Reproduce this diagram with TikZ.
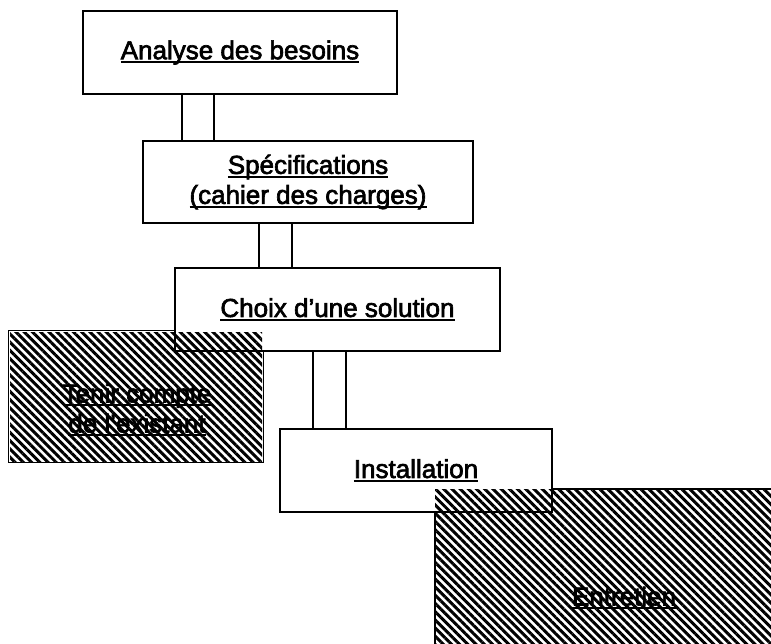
\documentclass[tikz,border=0pt]{standalone}
\usepackage{fontspec}
\setmainfont[FakeBold=2.5]{Liberation Sans}
\usetikzlibrary{patterns.meta}
\newcommand\ulbox[1]{\setbox0\hbox{#1}\rlap{\rule[-0.15em]{\wd0}{0.08em}}\box0}
\tikzset{
  stage/.style={draw, line width=1.8pt, fill=white, align=center, inner sep=0pt,
    font=\fontsize{26}{30}\selectfont},
  openstage/.style={stage, fill=none},
  hatchbox/.style={inner sep=0pt, pattern={Lines[angle=-45,distance=5.8pt,line width=3pt]}},
  edge/.style={line width=1.8pt},
  lbl/.style={align=center, inner sep=0pt, font=\fontsize{26}{30}\selectfont}
}
\begin{document}
\begin{tikzpicture}[x=1pt,y=-1pt]
\useasboundingbox (0,0) rectangle (771,644);
\clip (0,0) rectangle (771,644);
% connector x positions
\coordinate (xa) at (182,0);
\coordinate (xb) at (214,0);
\coordinate (xc) at (259,0);
\coordinate (xd) at (292,0);
\coordinate (xe) at (313,0);
\coordinate (xf) at (346,0);
% plain stages
\node[stage, minimum width=314pt, minimum height=83pt] (b1) at (240,52.5) {\ulbox{Analyse des besoins}};
\node[stage, minimum width=330pt, minimum height=82pt] (b2) at (308,182) {\ulbox{Spécifications}\\\ulbox{(cahier des charges)}};
% hatched areas
\node[hatchbox, minimum width=252pt, minimum height=129pt] (tenir) at (136,396.5) {};
\node[hatchbox, minimum width=345pt, minimum height=160pt] (ent) at (607.5,569) {};
\node[openstage, minimum width=325pt, minimum height=83pt] (b3) at (337.5,309.5) {\ulbox{Choix d’une solution}};
\node[openstage, minimum width=272pt, minimum height=83pt] (b4) at (416,470.5) {\ulbox{Installation}};
% borders of hatched areas outside the stages
\draw[edge] (b3.west |- tenir.north) -- (tenir.north west) -- (tenir.south west)
  -- (tenir.south east) -- (tenir.east |- b3.south);
\draw[edge] (b4.east |- ent.north) -- (ent.north east);
\draw[edge] (ent.west |- b4.south) -- (ent.south west);
% labels of hatched areas
\node[lbl] (tenirtxt) at (137,410) {\ulbox{Tenir compte}\\\ulbox{de l’existant}};
\node[lbl] (enttxt) at (624,598) {\ulbox{Entretien}};
% double-line connectors
\draw[edge] (b1.south -| xa) -- (b2.north -| xa);
\draw[edge] (b1.south -| xb) -- (b2.north -| xb);
\draw[edge] (b2.south -| xc) -- (b3.north -| xc);
\draw[edge] (b2.south -| xd) -- (b3.north -| xd);
\draw[edge] (b3.south -| xe) -- (b4.north -| xe);
\draw[edge] (b3.south -| xf) -- (b4.north -| xf);
\end{tikzpicture}
\end{document}
